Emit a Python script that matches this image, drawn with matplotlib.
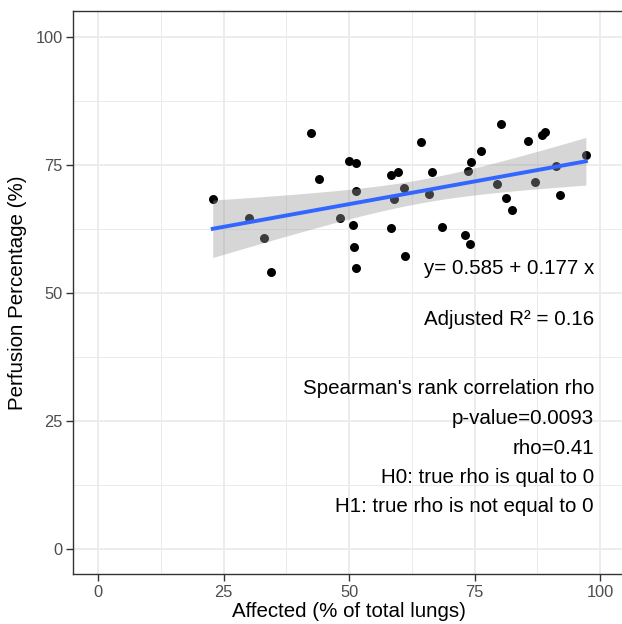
"""
Scatter of perfusion vs affected lung share, with a linear fit and stats notes.
"""

import numpy as np
import matplotlib
matplotlib.use('Agg')
import matplotlib.pyplot as plt

plt.rcParams['font.family'] = ['Liberation Sans', 'DejaVu Sans']

# values
affected = [22.8, 30.1, 33.1, 34.5, 42.4, 44.0, 48.1, 49.9, 51.3, 51.4,
            50.7, 50.9, 51.4, 58.4, 59.8, 59.0, 61.0, 58.4, 61.2, 64.3,
            66.6, 65.9, 68.5, 73.1, 74.0, 73.6, 74.2, 76.2, 79.5, 80.3,
            81.3, 82.4, 85.6, 87.1, 88.4, 89.0, 91.2, 92.0, 97.2]
perfusion = [68.2, 64.6, 60.6, 54.0, 81.1, 72.2, 64.5, 75.7, 75.3, 69.8,
             63.2, 58.9, 54.9, 72.9, 73.5, 68.3, 70.4, 62.6, 57.2, 79.4,
             73.6, 69.3, 62.8, 61.3, 59.5, 73.7, 75.5, 77.7, 71.2, 82.9,
             68.5, 66.1, 79.6, 71.7, 80.7, 81.4, 74.7, 69.0, 76.8]

tick_values = [0, 25, 50, 75, 100]
notes = [
    ('y= 0.585 + 0.177 x', 54.7),
    ('Adjusted R\u00b2 = 0.16', 44.7),
    ("Spearman's rank correlation rho", 31.3),
    ('p-value=0.0093', 25.4),
    ('rho=0.41', 19.6),
    ('H0: true rho is qual to 0', 13.9),
    ('H1: true rho is not equal to 0', 8.3),
]

x = np.array(affected)
y = np.array(perfusion)

# linear fit with 95% confidence band (like geom_smooth(method='lm'))
slope, intercept = np.polyfit(x, y, 1)
n = len(x)
resid = y - (intercept + slope * x)
s = np.sqrt(np.sum(resid ** 2) / (n - 2))
sxx = np.sum((x - x.mean()) ** 2)
t_crit = 2.026  # t(0.975, df=37)
xs = np.linspace(x.min(), x.max(), 100)
fit = intercept + slope * xs
half = t_crit * s * np.sqrt(1.0 / n + (xs - x.mean()) ** 2 / sxx)

W, H = 622, 624
fig = plt.figure(figsize=(W / 100, H / 100), dpi=100)
ax = fig.add_axes([73.3 / W, (H - 574.3) / H, (625 - 73.3) / W, (574.3 - 11) / H])

ax.scatter(x, y, s=42, color='black', zorder=3, linewidths=0)
ax.fill_between(xs, fit - half, fit + half, color='#999999', alpha=0.4,
                linewidth=0, zorder=4)
ax.plot(xs, fit, color='#3366FF', linewidth=2.8, zorder=5)

for label, ypos in notes:
    ax.text(98.8, ypos, label, ha='right', va='center', fontsize=14.8,
            color='black', zorder=6)

ax.set_xlim(-5, 105)
ax.set_ylim(-5, 105)
ax.set_xticks(tick_values)
ax.set_yticks(tick_values)
ax.set_xticks([12.5, 37.5, 62.5, 87.5], minor=True)
ax.set_yticks([12.5, 37.5, 62.5, 87.5], minor=True)
ax.grid(True, which='major', color='#EBEBEB', linewidth=1.3, zorder=0)
ax.grid(True, which='minor', color='#EBEBEB', linewidth=0.7, zorder=0)
ax.set_axisbelow(True)

ax.tick_params(which='major', length=5, width=1.0, color='#333333',
               labelsize=11.8, labelcolor='#4D4D4D', pad=2.5)
ax.tick_params(which='minor', length=0)
for sp in ax.spines.values():
    sp.set_color('#333333')
    sp.set_linewidth(1.0)

ax.set_xlabel('Affected (% of total lungs)', fontsize=14.8, labelpad=2)
ax.set_ylabel('Perfusion Percentage (%)', fontsize=14.8, labelpad=6)

fig.savefig('out.png', dpi=100)
